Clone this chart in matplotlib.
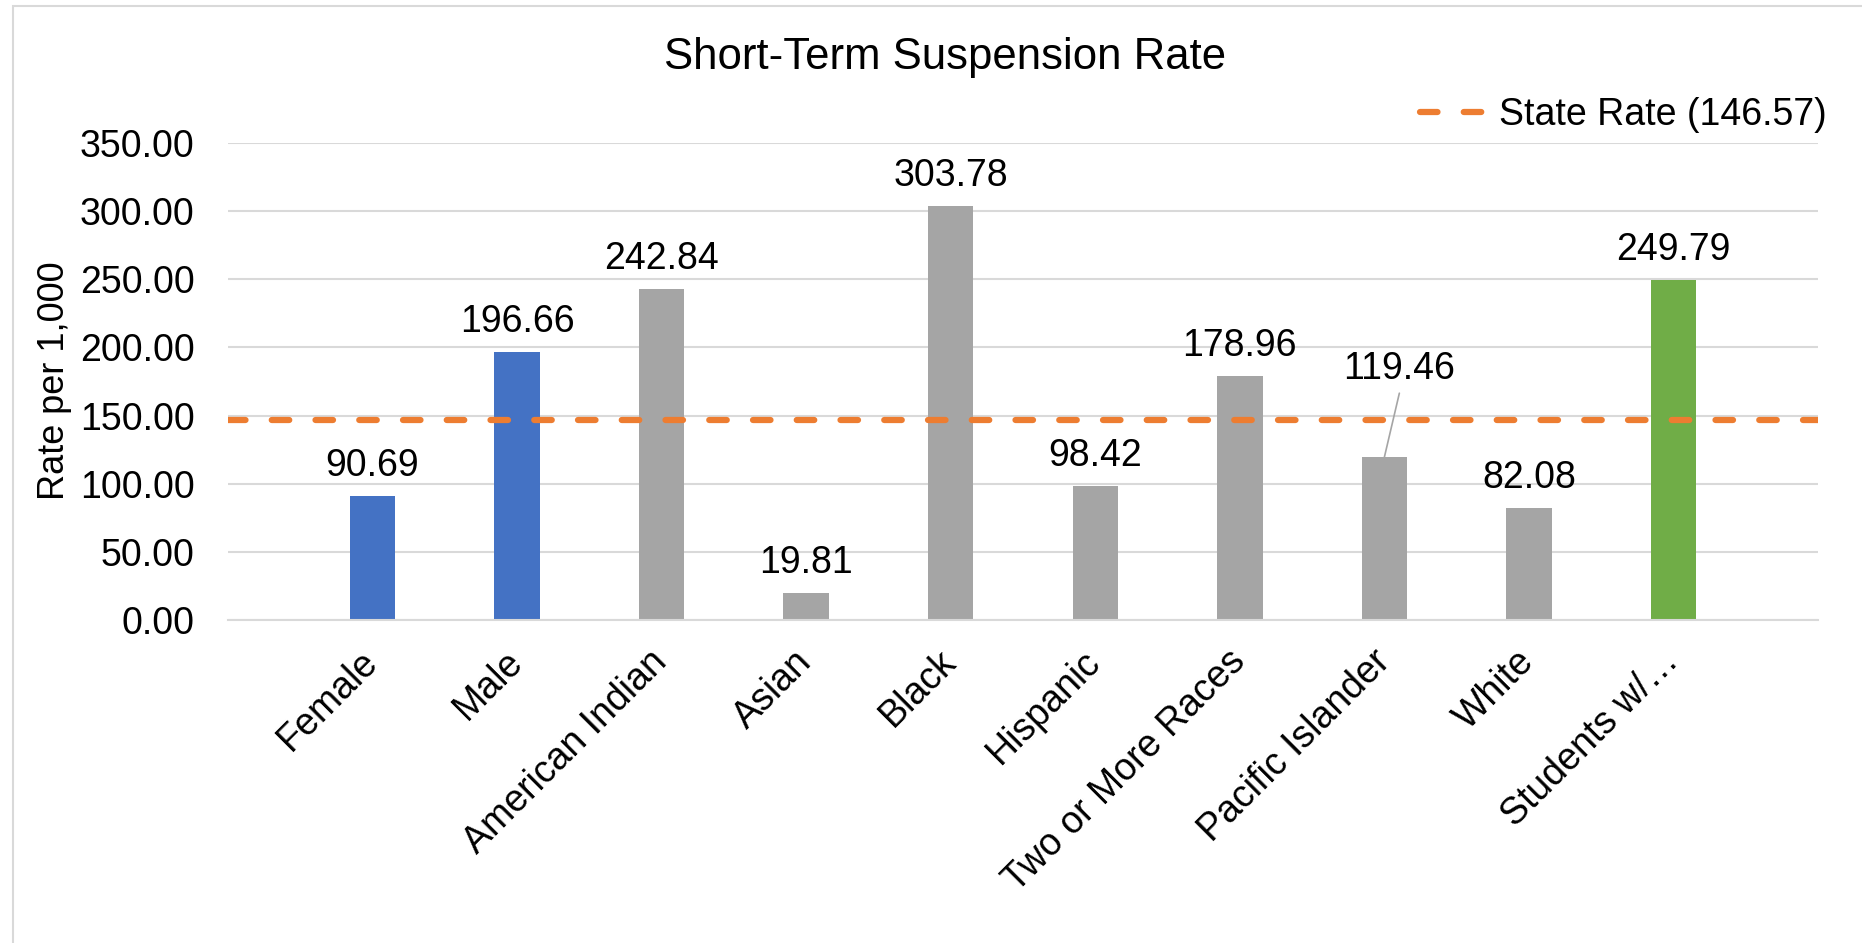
import numpy as np
import matplotlib.pyplot as plt
from matplotlib.patches import Rectangle

categories = ['Female', 'Male', 'American Indian', 'Asian', 'Black', 'Hispanic',
              'Two or More Races', 'Pacific Islander', 'White', 'Students w/…']
rates = [90.69, 196.66, 242.84, 19.81, 303.78, 98.42, 178.96, 119.46, 82.08, 249.79]
bar_colors = ['#4472C4', '#4472C4', '#A5A5A5', '#A5A5A5', '#A5A5A5', '#A5A5A5',
              '#A5A5A5', '#A5A5A5', '#A5A5A5', '#70AD47']
state_rate = 146.57
yticks = [0, 50, 100, 150, 200, 250, 300, 350]

plt.rcParams['font.family'] = ['Liberation Sans', 'DejaVu Sans']

W, H = 1862, 943
fig = plt.figure(figsize=(W / 100, H / 100), dpi=100)

# light chart border (cut off on right / bottom)
fig.patches.append(Rectangle((13 / W, -0.1), 1.2, 1 - 6 / H + 0.1, transform=fig.transFigure,
                             fill=False, edgecolor='#D9D9D9', lw=1.5))

ax = fig.add_axes([228 / W, 1 - 620 / H, (1818 - 228) / W, (620 - 143) / H])

x = np.arange(len(categories))
ax.bar(x, rates, width=0.315, color=bar_colors, zorder=2)
ax.axhline(state_rate, color='#ED7D31', lw=4.5, dashes=(2.8, 4.2), dash_capstyle='round',
           zorder=3, label=f'State Rate ({state_rate:.2f})')

for i, v in enumerate(rates):
    if categories[i] == 'Pacific Islander':
        ax.annotate(f'{v:.2f}', xy=(i, v), xytext=(15, 78), textcoords='offset pixels',
                    ha='center', va='baseline', fontsize=27)
        ax.annotate('', xy=(i, v), xytext=(15, 64), textcoords='offset pixels',
                    arrowprops=dict(arrowstyle='-', color='#A5A5A5', lw=1.2,
                                    shrinkA=0, shrinkB=0))
    else:
        ax.annotate(f'{v:.2f}', xy=(i, v), xytext=(0, 20), textcoords='offset pixels',
                    ha='center', va='baseline', fontsize=27)

ax.set_xlim(-1, len(categories))
ax.set_ylim(0, 350)
ax.set_yticks(yticks)
ax.set_yticklabels([f'{t:.2f}' for t in yticks])
ax.set_xticks(x)
ax.set_xticklabels(categories, rotation=45, ha='right', va='center', rotation_mode='anchor')
ax.yaxis.grid(True, color='#D9D9D9', lw=1.5)
ax.set_axisbelow(True)
for s in ['top', 'left', 'right']:
    ax.spines[s].set_visible(False)
ax.spines['bottom'].set_color('#D9D9D9')
ax.spines['bottom'].set_linewidth(1.5)
ax.tick_params(axis='both', length=0, labelsize=27)
ax.tick_params(axis='y', pad=24)
ax.tick_params(axis='x', pad=26)

ax.legend(loc='center right', bbox_to_anchor=(1827 / W, 1 - 115 / H), bbox_transform=fig.transFigure,
          frameon=False, fontsize=27, handlelength=1.76, handletextpad=0.35,
          borderpad=0, borderaxespad=0)

fig.text(945 / W, 1 - 69.5 / H, 'Short-Term Suspension Rate', ha='center', va='baseline', fontsize=31.5)
fig.text(54 / W, 1 - 381 / H, 'Rate per 1,000', rotation=90, ha='center', va='center', fontsize=26)

fig.savefig('out.png', dpi=100)
